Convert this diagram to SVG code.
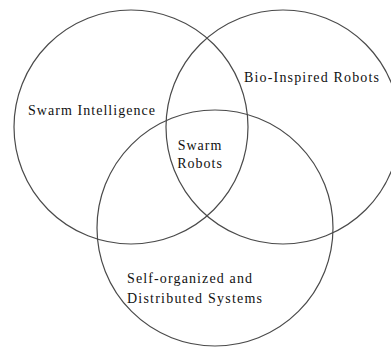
<svg xmlns="http://www.w3.org/2000/svg" width="391" height="347" viewBox="0 0 391 347">
<style>
.c{fill:none;stroke:#4a4a4a;stroke-width:1.2}
text{font-size:14px;fill:#111;letter-spacing:1px}
</style>
<rect width="391" height="347" fill="#fff"/>
<g id="connectors"></g>
<g font-family="Liberation Serif, Times New Roman, DejaVu Serif, serif">
<g id="swarm-intelligence">
<circle class="c" cx="131" cy="127" r="117"/>
<text x="28" y="115" textLength="128" lengthAdjust="spacing">Swarm Intelligence</text>
</g>
<g id="bio-inspired-robots">
<circle class="c" cx="283" cy="127" r="117"/>
<text x="244" y="82" textLength="136" lengthAdjust="spacing">Bio-Inspired Robots</text>
</g>
<g id="self-organized">
<circle class="c" cx="215" cy="228" r="118"/>
<text x="127" y="283" textLength="126" lengthAdjust="spacing">Self-organized and</text>
<text x="127" y="303" textLength="136" lengthAdjust="spacing">Distributed Systems</text>
</g>
<g id="swarm-robots">
<text x="200" y="150" text-anchor="middle">Swarm</text>
<text x="200" y="168" text-anchor="middle">Robots</text>
</g>
</g>
</svg>
